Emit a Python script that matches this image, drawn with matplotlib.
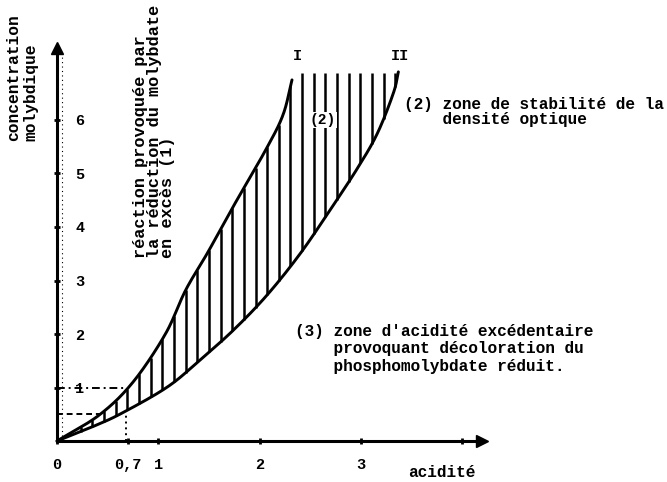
import numpy as np
import matplotlib.pyplot as plt

# values
curve_I_x = [0, 0.42, 0.75, 1.07, 1.27, 1.49, 1.76, 2.06, 2.23, 2.32]
curve_I_y = [0, 0.49, 1.10, 2.00, 2.82, 3.53, 4.45, 5.44, 6.09, 6.75]

curve_II_x = [0, 0.355, 0.64, 1.09, 1.41, 1.74, 2.07, 2.40, 2.70, 2.96, 3.16, 3.32, 3.37]
curve_II_y = [0, 0.27, 0.52, 1.01, 1.51, 2.07, 2.72, 3.50, 4.33, 5.08, 5.74, 6.50, 6.90]

zone_top = 6.88

x_ticks = [0, 0.7, 1, 2, 3, 4]
x_tick_labels = ['0', '0,7', '1', '2', '3', '']
y_ticks = [1, 2, 3, 4, 5, 6]
y_tick_labels = ['1', '2', '3', '4', '5', '6']

guide_x = 0.68
guide_y_hi = 1.0
guide_y_lo = 0.5

FONT = 'Liberation Mono'


def smooth(xs, ys, n=20):
    # catmull-rom through the read points, only to draw the pen stroke smoothly
    p = np.column_stack([xs, ys]).astype(float)
    p = np.vstack([2 * p[0] - p[1], p, 2 * p[-1] - p[-2]])
    t = np.linspace(0, 1, n, endpoint=False)[:, None]
    out = []
    for i in range(1, len(p) - 2):
        p0, p1, p2, p3 = p[i - 1], p[i], p[i + 1], p[i + 2]
        seg = 0.5 * ((2 * p1) + (-p0 + p2) * t + (2 * p0 - 5 * p1 + 4 * p2 - p3) * t ** 2
                     + (-p0 + 3 * p1 - 3 * p2 + p3) * t ** 3)
        out.append(seg)
    out.append(p[-2][None, :])
    out = np.vstack(out)
    return out[:, 0], out[:, 1]


sIx, sIy = smooth(curve_I_x, curve_I_y)
sIIx, sIIy = smooth(curve_II_x, curve_II_y)

fig = plt.figure(figsize=(6.67, 4.82), dpi=100)
ax = fig.add_axes([0, 0, 1, 1])
ax.set_xlim(-57 / 101.3, 610 / 101.3)
ax.set_ylim(-41 / 53.5, 441 / 53.5)

for s in ['top', 'right']:
    ax.spines[s].set_visible(False)
ax.spines['left'].set_position(('data', 0))
ax.spines['bottom'].set_position(('data', 0))
ax.spines['left'].set_bounds(0, 7.35)
ax.spines['bottom'].set_bounds(0, 4.2)
ax.spines['left'].set_linewidth(2.2)
ax.spines['bottom'].set_linewidth(2.2)
ax.plot(0, 7.35, marker='^', ms=8, color='k', clip_on=False)
ax.plot(4.2, 0, marker='>', ms=8, color='k', clip_on=False)

ax.set_xticks(x_ticks)
ax.set_xticklabels(x_tick_labels, fontfamily=FONT, fontweight='bold', fontsize=11)
ax.set_yticks(y_ticks)
ax.set_yticklabels(y_tick_labels, fontfamily=FONT, fontweight='bold', fontsize=11)
ax.tick_params(axis='x', direction='inout', length=4, width=2, pad=10)
ax.tick_params(axis='y', direction='inout', length=4, width=2, pad=-15)
for lbl in ax.get_yticklabels():
    lbl.set_ha('left')

# faint dotted line running next to the y axis
ax.plot([0.05, 0.05], [0.1, 7.2], color='k', lw=0.8, ls=(0, (1, 3)))

# hatching of zone (2)
for xh in np.arange(0.12, 3.36, 0.115):
    bottom = np.interp(xh, sIIx, sIIy)
    top = np.interp(xh, sIx, sIy) if xh <= curve_I_x[-1] else zone_top
    if top > bottom:
        ax.vlines(xh, bottom, top, color='k', lw=1.8)

ax.plot(sIx, sIy, color='k', lw=2.1, solid_capstyle='round')
ax.plot(sIIx, sIIy, color='k', lw=2.1, solid_capstyle='round')

# guide lines near the origin
x_hi = np.interp(guide_y_hi, sIy, sIx)
x_lo = np.interp(guide_y_lo, sIy, sIx)
y_v = np.interp(guide_x, sIIx, sIIy)
ax.plot([0, x_hi], [guide_y_hi, guide_y_hi], color='k', lw=1.4, ls=(0, (4, 2, 1, 2)))
ax.plot([0, x_lo], [guide_y_lo, guide_y_lo], color='k', lw=1.4, ls=(0, (3, 2)))
ax.plot([guide_x, guide_x], [0, y_v], color='k', lw=1.4, ls=(0, (1, 2)))

txt = dict(fontfamily=FONT, fontweight='bold', color='k')
ax.text(2.37, 7.2, 'I', ha='center', va='center', fontsize=11, **txt)
ax.text(3.39, 7.2, 'II', ha='center', va='center', fontsize=11, **txt)
ax.text(2.62, 6.0, '(2)', ha='center', va='center', fontsize=10.5,
        bbox=dict(facecolor='white', edgecolor='none', pad=1), **txt)

ax.text(3.43, 6.15, '(2) zone de stabilité de la\n    densité optique',
        ha='left', va='center', fontsize=11.6, linespacing=1.05, **txt)
ax.text(2.35, 1.72, "(3) zone d'acidité excédentaire\n    provoquant décoloration du\n    phosphomolybdate réduit.",
        ha='left', va='center', fontsize=11.6, linespacing=1.2, **txt)
ax.text(3.8, -0.58, 'acidité', ha='center', va='center', fontsize=11.6, **txt)

ax.text(0.75, 3.42, 'réaction provoquée par\nla réduction du molybdate\nen excès (1)',
        rotation=90, ha='left', va='bottom', multialignment='left',
        fontsize=12.2, linespacing=0.88, **txt)

fig.text(6 / 667, 1 - 141 / 482, 'concentration\nmolybdique', rotation=90,
         ha='left', va='bottom', multialignment='left', fontsize=11.7,
         linespacing=1.2, **txt)

fig.savefig('out.png', dpi=100, facecolor='white')
